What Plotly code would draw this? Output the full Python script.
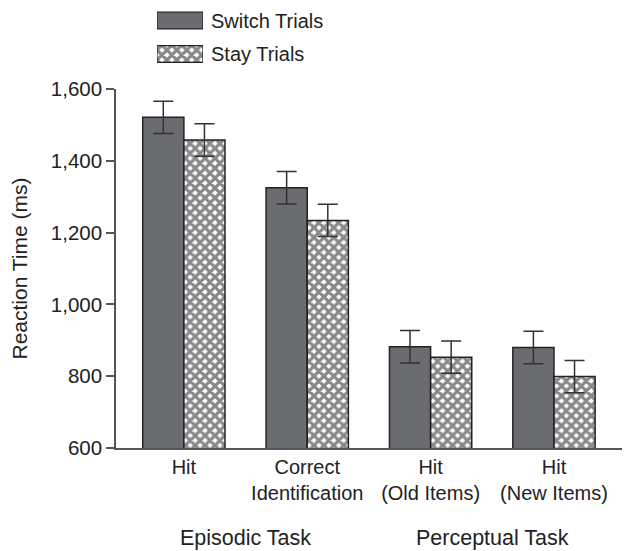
import plotly.graph_objects as go

# data
categories = ["Hit", "Correct<br>Identification", "Hit<br>(Old Items)", "Hit<br>(New Items)"]
switch_rt = [1521, 1325, 882, 880]
stay_rt = [1458, 1234, 853, 799]
switch_err = [45, 45, 45, 45]
stay_err = [45, 45, 45, 45]
y_ticks = [600, 800, 1000, 1200, 1400, 1600]
tasks = ["Episodic Task", "Perceptual Task"]
series_names = ["Switch Trials", "Stay Trials"]

FONT = "Liberation Sans, Arial, sans-serif"
DARK = "#6b6c70"
EDGE = "#222222"
HATCH = dict(shape="x", size=7, solidity=0.7, fgcolor="#111111", bgcolor="white", fillmode="overlay")

xs = list(range(len(categories)))

fig = go.Figure()
fig.add_trace(go.Bar(
    x=xs, y=switch_rt, name=series_names[0],
    marker=dict(color=DARK, line=dict(color=EDGE, width=1.5)),
    error_y=dict(type="data", array=switch_err, color="#333", thickness=1.5, width=10),
    showlegend=False,
))
fig.add_trace(go.Bar(
    x=xs, y=stay_rt, name=series_names[1],
    marker=dict(color="white", pattern=HATCH, line=dict(color=EDGE, width=1.5)),
    error_y=dict(type="data", array=stay_err, color="#333", thickness=1.5, width=10),
    showlegend=False,
))

# legend swatches drawn as a tiny horizontal bar chart on its own axes
leg_rows = [1, 0]
fig.add_trace(go.Bar(
    x=[1], y=[leg_rows[0]], orientation="h", xaxis="x2", yaxis="y2", width=0.5,
    marker=dict(color=DARK, line=dict(color=EDGE, width=1.2)), showlegend=False, hoverinfo="skip",
))
fig.add_trace(go.Bar(
    x=[1], y=[leg_rows[1]], orientation="h", xaxis="x2", yaxis="y2", width=0.5,
    marker=dict(color="white", pattern=HATCH, line=dict(color=EDGE, width=1.2)),
    showlegend=False, hoverinfo="skip",
))

annotations = []
for name, row in zip(series_names, leg_rows):
    annotations.append(dict(
        x=1, y=row, xref="x2", yref="y2", text=name, showarrow=False,
        xanchor="left", yanchor="middle", xshift=6, font=dict(size=20, color="#222"),
    ))
for name, xc in zip(tasks, [0.5, 2.5]):
    annotations.append(dict(
        x=xc, y=-0.2045, xref="x", yref="paper", text=name, showarrow=False,
        xanchor="center", yanchor="middle", font=dict(size=21.5, color="#222"),
    ))

# page body adds ~8px offset, so the figure is sized a bit smaller
fig.update_layout(
    template="none",
    width=622, height=543,
    margin=dict(l=108, r=2, t=0, b=103, autoexpand=False),
    paper_bgcolor="white", plot_bgcolor="white",
    font=dict(family=FONT, size=20, color="#222"),
    barmode="group", bargap=0.333, bargroupgap=0,
    xaxis=dict(
        tickvals=xs, ticktext=categories, range=[-0.55, 3.6], automargin=False,
        showline=True, linecolor="#555", linewidth=1.5, ticks="", showgrid=False,
        zeroline=False, tickfont=dict(size=20),
    ),
    yaxis=dict(
        domain=[0, 0.8159], range=[600, 1600], tickvals=y_ticks, tickformat=",",
        automargin=False,
        showline=True, linecolor="#555", linewidth=1.5, ticks="outside", ticklen=8,
        tickcolor="#555", tickwidth=1.5, showgrid=False, zeroline=False,
        title=dict(text="Reaction Time (ms)", standoff=22, font=dict(size=21)),
        tickfont=dict(size=20.5),
    ),
    xaxis2=dict(domain=[0.0801, 0.1699], range=[0, 1], visible=False, anchor="y2"),
    yaxis2=dict(domain=[0.8726, 0.9944], range=[-0.3, 1.3], visible=False, anchor="x2"),
    annotations=annotations,
)

fig.write_html("out.html")
